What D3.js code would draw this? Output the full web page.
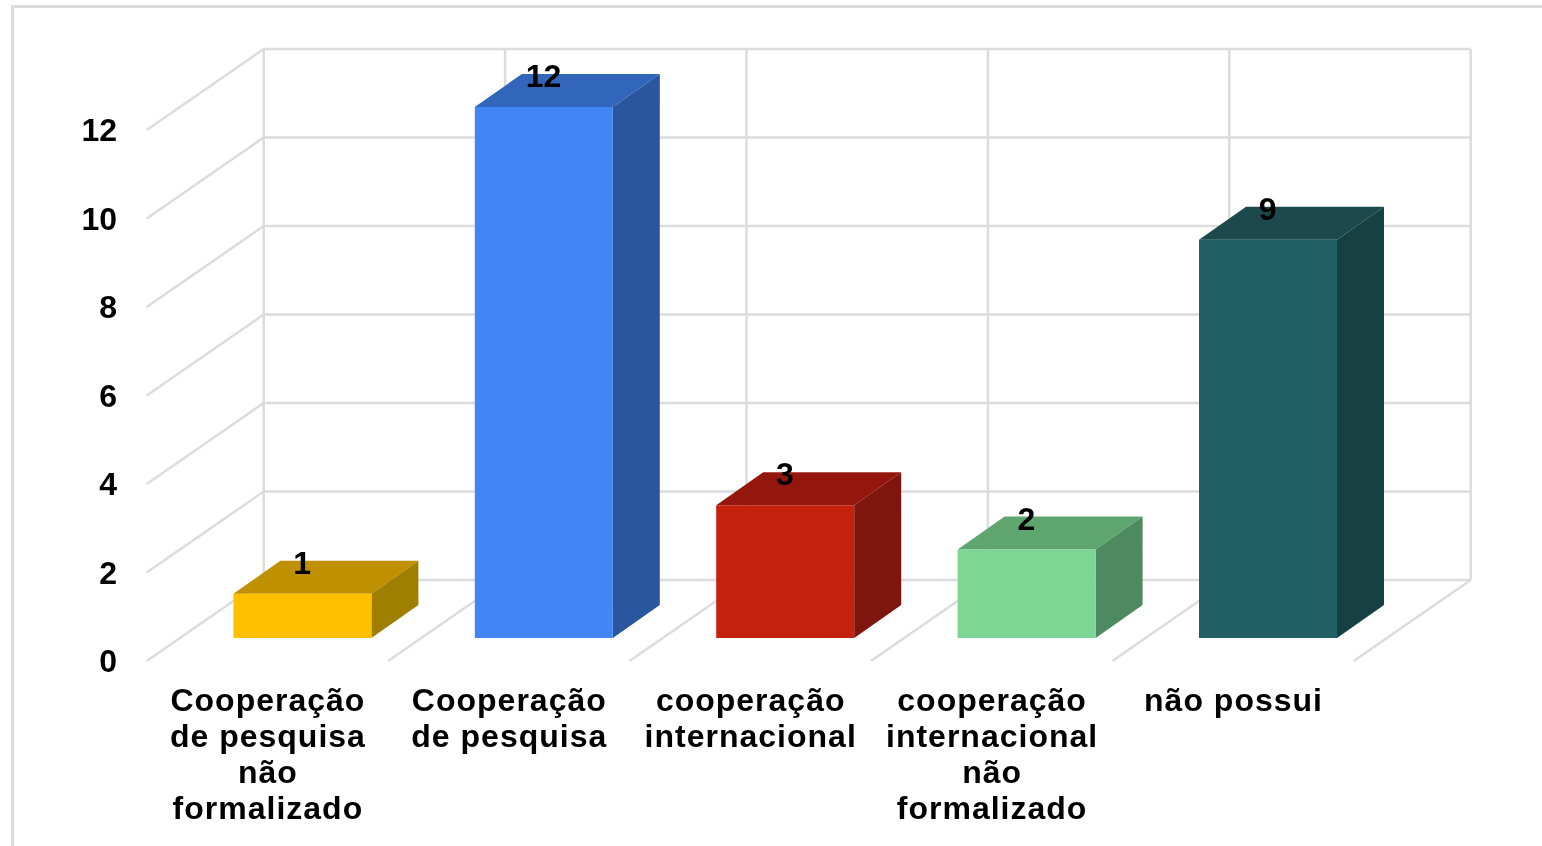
<!DOCTYPE html>
<html>
<head>
<meta charset="utf-8">
<script src="https://cdn.jsdelivr.net/npm/d3@7"></script>
<style>
html, body { margin: 0; padding: 0; background: #fff; overflow: hidden; }
svg { display: block; }
text { font-family: "Liberation Sans", Arial, sans-serif; font-weight: bold; fill: #000; }
</style>
</head>
<body>
<svg id="chart" width="1542" height="846"></svg>
<script>
var categories = [
    "Cooperação de pesquisa não formalizado",
    "Cooperação de pesquisa",
    "cooperação internacional",
    "cooperação internacional não formalizado",
    "não possui"
];
var categoryLines = [
    ["Cooperação", "de pesquisa", "não", "formalizado"],
    ["Cooperação", "de pesquisa"],
    ["cooperação", "internacional"],
    ["cooperação", "internacional", "não", "formalizado"],
    ["não possui"]
];
var values = [1, 12, 3, 2, 9];
var yTicks = [0, 2, 4, 6, 8, 10, 12];
var faceColors = ["#ffc000", "#4285f4", "#c5220f", "#7dd694", "#216165"];
var topColors = ["#bf9000", "#3366bb", "#94190e", "#5ea56f", "#1a494c"];
var sideColors = ["#a07e00", "#2a549f", "#7e140a", "#4e8a5e", "#163f42"];

var svg = d3.select("#chart");
var grid = "#dcdcdc";

// source picture is a soft screenshot
svg.append("defs").append("filter")
    .attr("id", "soft")
    .append("feGaussianBlur")
    .attr("stdDeviation", 0.45);

var root = svg.append("g").attr("filter", "url(#soft)");

// frame of the picture, only top and left are visible
root.append("path")
    .attr("d", "M12.5,850V6.5H1550")
    .attr("fill", "none")
    .attr("stroke", grid)
    .attr("stroke-width", 3);

var wall = { dx: 117, dy: -81 };
var bar = { dx: 47, dy: -33, inX: 86.7, inY: -23, width: 138 };

var x = d3.scaleBand().domain(d3.range(categories.length)).range([146.7, 1353.7]);
var y = d3.scaleLinear().domain([0, 12]).range([661, 130]);

var g = root.append("g");

// back wall and left side
yTicks.forEach(function (t) {
    g.append("path")
        .attr("d", "M" + x.range()[0] + "," + y(t) + "l" + wall.dx + "," + wall.dy + "H" + (x.range()[1] + wall.dx))
        .attr("fill", "none").attr("stroke", grid).attr("stroke-width", 2.5);
});
d3.range(categories.length + 1).forEach(function (i) {
    var x0 = x.range()[0] + i * x.bandwidth();
    g.append("line")
        .attr("x1", x0 + wall.dx).attr("x2", x0 + wall.dx)
        .attr("y1", y(12) + wall.dy).attr("y2", y(0) + wall.dy)
        .attr("stroke", grid).attr("stroke-width", 2.5);
    if (i > 0) {
        g.append("line")
            .attr("x1", x0).attr("y1", y(0))
            .attr("x2", x0 + wall.dx).attr("y2", y(0) + wall.dy)
            .attr("stroke", grid).attr("stroke-width", 2.5);
    }
});

// bars
var bars = g.selectAll(".bar")
    .data(values)
    .enter().append("g")
    .attr("class", "bar");

function barLeft(d, i) { return x(i) + bar.inX; }
function barTop(d) { return y(d) + bar.inY; }
function barBottom() { return y(0) + bar.inY; }

bars.append("path")
    .attr("fill", function (d, i) { return topColors[i]; })
    .attr("d", function (d, i) {
        return "M" + barLeft(d, i) + "," + barTop(d) + "l" + bar.dx + "," + bar.dy + "h" + bar.width +
            "l" + (-bar.dx) + "," + (-bar.dy) + "Z";
    });
bars.append("path")
    .attr("fill", function (d, i) { return sideColors[i]; })
    .attr("d", function (d, i) {
        var r = barLeft(d, i) + bar.width;
        return "M" + r + "," + barTop(d) + "l" + bar.dx + "," + bar.dy + "V" + (barBottom() + bar.dy) +
            "L" + r + "," + barBottom() + "Z";
    });
bars.append("rect")
    .attr("fill", function (d, i) { return faceColors[i]; })
    .attr("x", barLeft)
    .attr("y", barTop)
    .attr("width", bar.width)
    .attr("height", function (d) { return barBottom() - barTop(d); });

bars.append("text")
    .attr("x", function (d, i) { return barLeft(d, i) + bar.width / 2 - 0.3; })
    .attr("y", function (d) { return barTop(d) + bar.dy + 13; })
    .attr("text-anchor", "middle")
    .attr("font-size", 32)
    .text(function (d) { return d; });

// y axis
var axis = root.append("g")
    .attr("transform", "translate(117,0)")
    .call(d3.axisLeft(y).tickValues(yTicks).tickSize(0).tickPadding(0));
axis.select(".domain").remove();
axis.selectAll("text")
    .attr("font-size", 32)
    .style("font-family", '"Liberation Sans", Arial, sans-serif')
    .attr("dy", "0.33em");

// category labels
var labels = root.append("g")
    .selectAll("text")
    .data(categoryLines)
    .enter().append("text")
    .attr("text-anchor", "middle")
    .attr("font-size", 32)
    .attr("letter-spacing", 1);
labels.selectAll("tspan")
    .data(function (d, i) {
        return d.map(function (s, j) { return { s: s, i: i, j: j }; });
    })
    .enter().append("tspan")
    .attr("x", function (d) { return x(d.i) + x.bandwidth() / 2 + 0.5; })
    .attr("y", function (d) { return 711 + d.j * 36; })
    .text(function (d) { return d.s; });
</script>
</body>
</html>
